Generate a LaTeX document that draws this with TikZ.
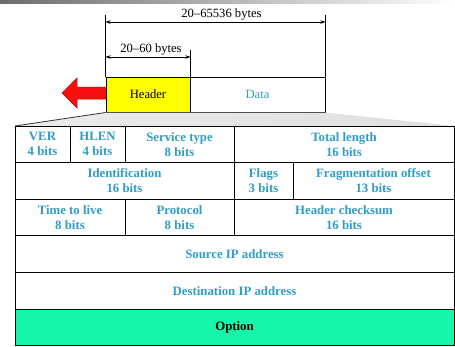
\documentclass[tikz,border=0pt]{standalone}
\usepackage{fontspec}
\setmainfont{Liberation Serif}
\usetikzlibrary{arrows.meta, positioning, calc}

\begin{document}
\begin{tikzpicture}[
    x=1pt, y=-1pt,
    every node/.style={font=\fontsize{12.6}{15}\selectfont},
]

% ---------------------------------------------------------------- colours
\definecolor{fieldblue}{HTML}{2F9DC8}   % the field names
\definecolor{optgreen}{HTML}{14F7AA}    % the option row
\definecolor{hdryellow}{HTML}{FFFF00}
\definecolor{arrowred}{HTML}{F81010}

% ---------------------------------------------------------------- styles
\tikzset{
    cell/.style={draw=black, line width=1pt, fill=white, text=fieldblue,
                 font=\fontsize{12.8}{15}\selectfont\bfseries, align=center,
                 inner sep=0pt, minimum height=36.6},
    dgram/.style={draw=black, line width=1pt, inner sep=0pt,
                  minimum height=35},
    extline/.style={line width=0.7pt},
    dimarrow/.style={line width=0.7pt,
                     {Stealth[length=5pt, width=3.5pt]}-{Stealth[length=5pt, width=3.5pt]}},
}

\useasboundingbox (0,0) rectangle (455,346);

% the grey strip along the top of the slide
\shade[left color=gray!85!black, right color=white] (0,0) rectangle (455,3.5);

% ----------------------------------------------------------------------
% the datagram: header and data
% ----------------------------------------------------------------------
% the red arrow behind the header
\filldraw[fill=arrowred, draw=arrowred!70!black, line width=0.5pt]
    (62,93) -- (77,78) -- (77,87) -- (110,87) -- (110,99) -- (77,99)
    -- (77,108) -- cycle;

\node[dgram, fill=hdryellow, minimum width=84] (header) at (148,94.5) {Header};
\node[dgram, fill=white, text=fieldblue, minimum width=135] (data)
    at (257.5,94.5) {Data};

% the sizes
\coordinate (totrow) at (0,22);
\coordinate (hdrrow) at (0,57);
\draw[extline] (header.north west) -- ++(0,-62);
\draw[extline] (data.north east) -- ++(0,-62);
\draw[extline] (header.north east) -- ++(0,-27);
\draw[dimarrow] (header.north west |- totrow) -- (data.north east |- totrow)
    node[midway, above, inner sep=1.5pt, xshift=6pt] {20--65536 bytes};
\draw[dimarrow] (header.north west |- hdrrow) -- (header.north east |- hdrrow)
    node[midway, above, inner sep=1.5pt, xshift=3pt] {20--60 bytes};

% the header opened out into its fields
\shade[left color=gray!15, middle color=gray!85!black, right color=gray!25]
    (header.south west) -- (data.south east) -- (454,126) -- (15,126) -- cycle;
\draw[line width=0.8pt, gray!40!black] (header.south west) -- (15,126);

% ----------------------------------------------------------------------
% the header fields, one row of 32 bits at a time
% ----------------------------------------------------------------------
\node[cell, minimum width=55]  (ver)   at (42.5,144.3)  {VER\\4 bits};
\node[cell, minimum width=55]  (hlen)  at (97.5,144.3)  {HLEN\\4 bits};
\node[cell, minimum width=109] (tos)   at (179.5,144.3) {Service type\\8 bits};
\node[cell, minimum width=220] (tlen)  at (344,144.3)   {Total length\\16 bits};

\node[cell, minimum width=219] (ident) at (124.5,180.9) {Identification\\16 bits};
\node[cell, minimum width=59]  (flags) at (263.5,180.9) {Flags\\3 bits};
\node[cell, minimum width=161] (frag)  at (373.5,180.9) {Fragmentation offset\\13 bits};

\node[cell, minimum width=110] (ttl)   at (70,217.5)    {Time to live\\8 bits};
\node[cell, minimum width=109] (proto) at (179.5,217.5) {Protocol\\8 bits};
\node[cell, minimum width=220] (csum)  at (344,217.5)   {Header checksum\\16 bits};

\node[cell, minimum width=439] (src)   at (234.5,254.1) {Source IP address};
\node[cell, minimum width=439] (dst)   at (234.5,290.7) {Destination IP address};
\node[cell, minimum width=439, fill=optgreen, text=black] (opt)
    at (234.5,327.3) {Option};

\end{tikzpicture}
\end{document}
